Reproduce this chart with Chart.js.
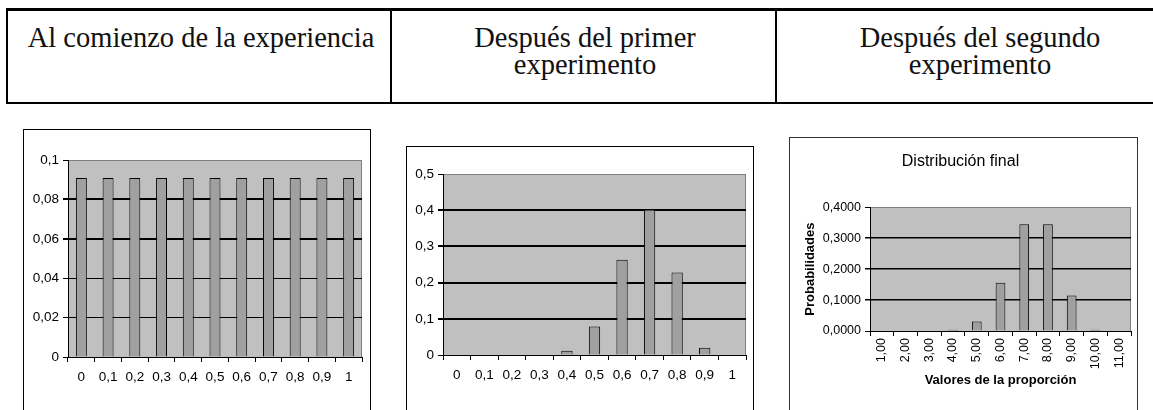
<!DOCTYPE html>
<html>
<head>
<meta charset="utf-8">
<script src="https://cdn.jsdelivr.net/npm/chart.js"></script>
<style>
  body { margin: 0; width: 1153px; height: 410px; overflow: hidden; background: #fff; position: relative; }
  .head { position: absolute; left: 6px; top: 8px; width: 1200px; height: 91px;
          border-top: 3px solid #000; border-bottom: 2px solid #000; border-left: 2px solid #000; }
  .divider { position: absolute; top: 8px; width: 2px; height: 96px; background: #000; }
  .htxt { position: absolute; top: 24px; width: 420px; margin-left: -210px; text-align: center;
          font-family: "Liberation Serif", "Times New Roman", serif; font-size: 28.5px; line-height: 27px; color: #111; }
  .box { position: absolute; border: 1px solid #000; background: #fff; height: 320px; }
  .box canvas { position: absolute; left: 0; top: 0; }
</style>
</head>
<body>
<div class="head"></div>
<div class="divider" style="left:390px"></div>
<div class="divider" style="left:775px"></div>
<div class="htxt" style="left:201px">Al comienzo de la experiencia</div>
<div class="htxt" style="left:585px">Después del primer<br>experimento</div>
<div class="htxt" style="left:980px">Después del segundo<br>experimento</div>

<div class="box" style="left:23px;top:129px;width:346px"><canvas id="c1" width="346" height="280"></canvas></div>
<div class="box" style="left:406px;top:146px;width:346px"><canvas id="c2" width="346" height="263"></canvas></div>
<div class="box" style="left:789px;top:137px;width:347px;border-color:#333"><canvas id="c3" width="347" height="272"></canvas></div>

<script>
// chart 1: al comienzo
const xLabels1 = ['0', '0,1', '0,2', '0,3', '0,4', '0,5', '0,6', '0,7', '0,8', '0,9', '1'];
const values1 = [0.0909, 0.0909, 0.0909, 0.0909, 0.0909, 0.0909, 0.0909, 0.0909, 0.0909, 0.0909, 0.0909];
const yTicks1 = ['0', '0,02', '0,04', '0,06', '0,08', '0,1'];

// chart 2: despues del primer experimento
const xLabels2 = ['0', '0,1', '0,2', '0,3', '0,4', '0,5', '0,6', '0,7', '0,8', '0,9', '1'];
const values2 = [0, 0, 0, 0, 0.012, 0.079, 0.263, 0.402, 0.228, 0.02, 0];
const yTicks2 = ['0', '0,1', '0,2', '0,3', '0,4', '0,5'];

// chart 3: distribucion final
const xLabels3 = ['1,00', '2,00', '3,00', '4,00', '5,00', '6,00', '7,00', '8,00', '9,00', '10,00', '11,00'];
const values3 = [0, 0, 0, 0.004, 0.031, 0.156, 0.345, 0.345, 0.115, 0.004, 0];
const yTicks3 = ['0,0000', '0,1000', '0,2000', '0,3000', '0,4000'];

const narrow = "'Liberation Sans Narrow', 'Liberation Sans', Arial, sans-serif";
const sans = "'Liberation Sans', Arial, sans-serif";

// excel-ish grey plot area with a grey right edge
const plotBg = {
  id: 'plotBg',
  beforeDraw(chart) {
    const { ctx, chartArea: a } = chart;
    ctx.save();
    ctx.fillStyle = '#c0c0c0';
    ctx.fillRect(a.left, a.top, a.right - a.left, a.bottom - a.top);
    ctx.strokeStyle = '#808080';
    ctx.lineWidth = 1;
    ctx.beginPath();
    ctx.moveTo(a.right - 0.5, a.top);
    ctx.lineTo(a.right - 0.5, a.bottom);
    ctx.stroke();
    ctx.restore();
  }
};

function makeChart(id, cfg) {
  const last = cfg.yTicks.length - 1;
  const options = {
    responsive: false,
    animation: false,
    layout: { padding: cfg.padding },
    plugins: {
      legend: { display: false },
      tooltip: { enabled: false },
      title: cfg.title || { display: false }
    },
    scales: {
      x: {
        border: { color: '#000', width: 1 },
        grid: { drawOnChartArea: false, tickLength: 5, tickColor: '#000', offset: true },
        ticks: {
          color: '#000', padding: cfg.xPad, autoSkip: false,
          minRotation: cfg.rot, maxRotation: cfg.rot,
          font: { family: cfg.font, size: cfg.size }
        },
        title: cfg.xTitle || { display: false },
        afterFit: (s) => { s.height = cfg.xHeight; }
      },
      y: {
        min: 0,
        max: cfg.max,
        border: { color: '#000', width: 1 },
        grid: {
          tickLength: 5,
          tickColor: '#000',
          color: (c) => (c.index === last ? '#808080' : '#000'),
          lineWidth: (c) => (c.index === last ? 1 : cfg.gridWidths[c.index])
        },
        ticks: {
          stepSize: cfg.max / last,
          color: '#000',
          padding: 4,
          font: { family: cfg.font, size: cfg.size },
          callback: (v, i) => cfg.yTicks[i]
        },
        title: cfg.yTitle || { display: false },
        afterFit: (s) => { s.width = cfg.yWidth; }
      }
    }
  };
  return new Chart(document.getElementById(id), {
    type: 'bar',
    data: {
      labels: cfg.labels,
      datasets: [{
        data: cfg.values,
        backgroundColor: '#a0a0a0',
        borderColor: '#000',
        borderWidth: 1,
        barPercentage: 0.41,
        categoryPercentage: 1
      }]
    },
    options,
    plugins: [plotBg]
  });
}

makeChart('c1', {
  labels: xLabels1, values: values1, yTicks: yTicks1, max: 0.1,
  gridWidths: [1, 1, 1, 2, 2],
  padding: { left: 0, right: 8, top: 30, bottom: 0 },
  yWidth: 44, xHeight: 53, xPad: 7, rot: 0,
  font: narrow, size: 13.5
});

makeChart('c2', {
  labels: xLabels2, values: values2, yTicks: yTicks2, max: 0.5,
  gridWidths: [1, 2, 2, 2, 2],
  padding: { left: 0, right: 7, top: 27, bottom: 0 },
  yWidth: 36, xHeight: 55, xPad: 7, rot: 0,
  font: narrow, size: 13.5
});

makeChart('c3', {
  labels: xLabels3, values: values3, yTicks: yTicks3, max: 0.4,
  gridWidths: [1, 1.5, 1.5, 1.5],
  padding: { left: 0, right: 6, top: 0, bottom: 0 },
  yWidth: 80, xHeight: 79, xPad: 2, rot: 90,
  font: sans, size: 12.5,
  title: {
    display: true, text: 'Distribución final', color: '#000',
    font: { family: sans, size: 16, weight: 'normal' },
    padding: { top: 14, bottom: 36 }
  },
  xTitle: {
    display: true, text: 'Valores de la proporción', color: '#000',
    font: { family: sans, size: 13, weight: 'bold' },
    padding: { top: 0, bottom: 22 }
  },
  yTitle: {
    display: true, text: 'Probabilidades', color: '#000',
    font: { family: sans, size: 13, weight: 'bold' },
    padding: { top: 13, bottom: 0 }
  }
});
</script>
</body>
</html>
